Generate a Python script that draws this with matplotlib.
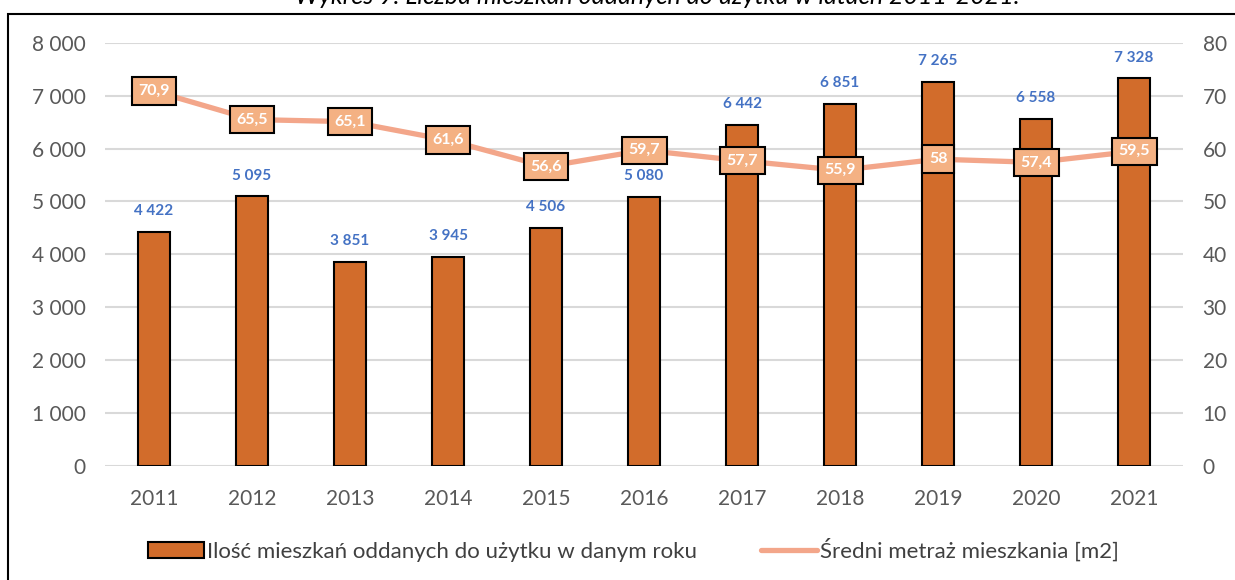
import matplotlib
matplotlib.use("Agg")
import matplotlib.pyplot as plt
from matplotlib.patches import Rectangle

# dane z wykresu
years = ["2011", "2012", "2013", "2014", "2015", "2016", "2017", "2018", "2019", "2020", "2021"]
flats = [4422, 5095, 3851, 3945, 4506, 5080, 6442, 6851, 7265, 6558, 7328]
avg_area = [70.9, 65.5, 65.1, 61.6, 56.6, 59.7, 57.7, 55.9, 58, 57.4, 59.5]
left_ticks = [0, 1000, 2000, 3000, 4000, 5000, 6000, 7000, 8000]
right_ticks = [0, 10, 20, 30, 40, 50, 60, 70, 80]

title = "Wykres 9. Liczba mieszkań oddanych do użytku w latach 2011-2021."
bar_label = "Ilość mieszkań oddanych do użytku w danym roku"
line_label = "Średni metraż mieszkania [m2]"

plt.rcParams["font.family"] = ["Lato", "DejaVu Sans"]

BAR_C = "#D26C2B"
LINE_C = "#F3A68A"
BOX_C = "#F4B183"
GRAY = "#595959"


def fmt_thousands(v):
    return f"{int(v):,}".replace(",", " ")


fig = plt.figure(figsize=(12.35, 5.8), dpi=100)
ax = fig.add_axes([0.085, 0.197, 0.873, 0.729])
x = list(range(len(years)))

ax.bar(x, flats, width=0.32, color=BAR_C, edgecolor="black", linewidth=1.5,
       zorder=3, label=bar_label)
for xi, v in zip(x, flats):
    ax.annotate(fmt_thousands(v), (xi, v), xytext=(0, 10), textcoords="offset points",
                ha="center", va="bottom", fontsize=11, fontweight="bold", color="#4472C4")

ax.set_ylim(0, 8000)
ax.set_xlim(-0.5, len(years) - 0.5)
ax.set_yticks(left_ticks)
ax.set_yticklabels([fmt_thousands(t) for t in left_ticks])
ax.set_xticks(x)
ax.set_xticklabels(years)
ax.grid(axis="y", color="#D9D9D9", linewidth=1.5, zorder=0)
ax.set_axisbelow(True)
for s in ax.spines.values():
    s.set_visible(False)
ax.tick_params(axis="both", length=0, labelsize=15, colors=GRAY)
ax.tick_params(axis="x", pad=17)
ax.tick_params(axis="y", pad=14)

ax2 = ax.twinx()
ax2.plot(x, avg_area, color=LINE_C, linewidth=3.8, solid_capstyle="round",
         zorder=4, label=line_label)
for xi, v in zip(x, avg_area):
    ax2.text(xi, v, f"{v:g}".replace(".", ","), ha="center", va="center",
             fontsize=11.5, fontweight="bold", color="white", zorder=5,
             bbox=dict(boxstyle="square,pad=0.42", facecolor=BOX_C,
                       edgecolor="black", linewidth=1.5))
ax2.set_ylim(0, 80)
ax2.set_yticks(right_ticks)
for s in ax2.spines.values():
    s.set_visible(False)
ax2.tick_params(axis="y", length=0, labelsize=15, colors=GRAY, pad=14)

h1, l1 = ax.get_legend_handles_labels()
h2, l2 = ax2.get_legend_handles_labels()
fig.legend(h1 + h2, l1 + l2, loc="center", ncol=2, frameon=False,
           bbox_to_anchor=(0.513, 0.052), fontsize=16, labelcolor="#404040",
           handlelength=2.5, handleheight=0.7, handletextpad=0.15, columnspacing=2.9)

# ramka wykresu (ucięta na prawej i dolnej krawędzi)
fig.patches.append(Rectangle((8 / 1235, -0.1), 1.2, 1.1 - 14 / 580,
                             transform=fig.transFigure, fill=False,
                             edgecolor="black", linewidth=1.5))
fig.text(657 / 1235, 1 - 4 / 580, title, ha="center", va="baseline",
         fontsize=18, style="italic", color="black")

fig.savefig("out.png", dpi=100)
